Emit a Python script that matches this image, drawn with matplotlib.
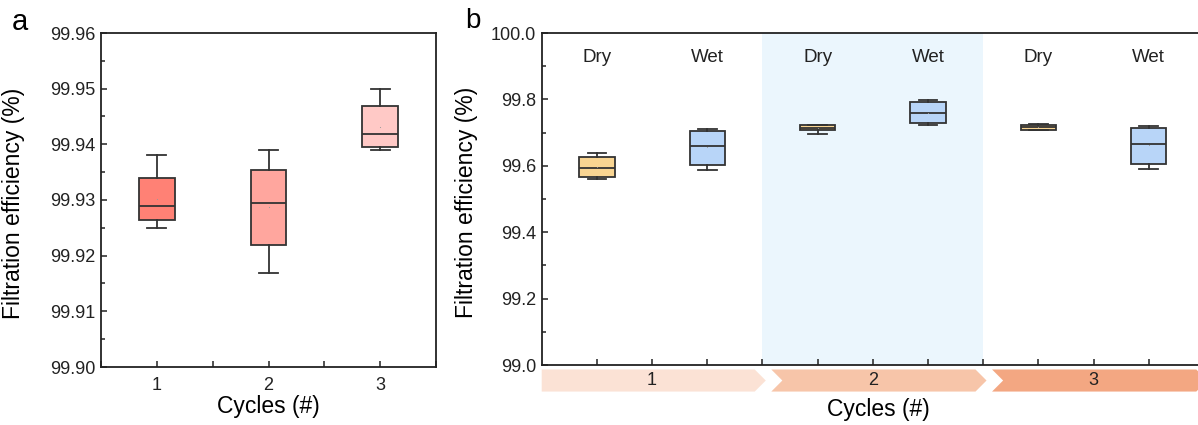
import numpy as np
import matplotlib
matplotlib.use('Agg')
import matplotlib.pyplot as plt
from matplotlib.ticker import MultipleLocator, FormatStrFormatter
from matplotlib.patches import Polygon
from matplotlib.transforms import blended_transform_factory

plt.rcParams['font.family'] = ['Liberation Sans', 'DejaVu Sans']

# panel a: filtration efficiency over 3 cycles
cycles_a = [1, 2, 3]
a_whislo = [99.9250, 99.9169, 99.9389]
a_q1 = [99.9264, 99.9219, 99.9395]
a_med = [99.9289, 99.9295, 99.9419]
a_q3 = [99.9339, 99.9353, 99.9469]
a_whishi = [99.9380, 99.9389, 99.9499]
a_mean = [99.9302, 99.9287, 99.9432]
a_colors = ['#FF8175', '#FFA69E', '#FFC9C6']

# panel b: dry / wet tests per cycle
conditions = ['Dry', 'Wet', 'Dry', 'Wet', 'Dry', 'Wet']
b_whislo = [99.560, 99.588, 99.697, 99.723, 99.707, 99.590]
b_q1 = [99.565, 99.603, 99.707, 99.729, 99.708, 99.606]
b_med = [99.594, 99.659, 99.714, 99.760, 99.716, 99.665]
b_q3 = [99.628, 99.704, 99.722, 99.791, 99.724, 99.714]
b_whishi = [99.638, 99.712, 99.723, 99.799, 99.727, 99.719]
b_mean = [99.595, 99.656, 99.715, 99.760, 99.716, 99.662]
cycle_labels = ['1', '2', '3']
cycle_colors = ['#FBE2D5', '#F7C5A9', '#F3A782']
cond_colors = {'Dry': '#F9D592', 'Wet': '#B8D5F8'}

EDGE = '#333333'


def make_stats(lo, q1, med, q3, hi, mean):
    return [dict(whislo=l, q1=a, med=m, q3=b, whishi=h, mean=mu, fliers=[])
            for l, a, m, b, h, mu in zip(lo, q1, med, q3, hi, mean)]


def draw_boxes(ax, stats, positions, colors):
    bp = ax.bxp(stats, positions=positions, widths=0.32, capwidths=0.17,
                patch_artist=True, showmeans=True, showfliers=False,
                boxprops=dict(edgecolor=EDGE, linewidth=1.3),
                medianprops=dict(color=EDGE, linewidth=1.3),
                whiskerprops=dict(color=EDGE, linewidth=1.3),
                capprops=dict(color=EDGE, linewidth=1.3),
                meanprops=dict(marker='o', markersize=0.8,
                               markerfacecolor='#999999', markeredgecolor='none'))
    for patch, c in zip(bp['boxes'], colors):
        patch.set_facecolor(c)
    return bp


def style_axes(ax):
    for sp in ax.spines.values():
        sp.set_linewidth(1.3)
        sp.set_color('#222222')
    ax.tick_params(which='both', direction='in', length=4, width=1.1,
                   color='#222222', labelsize=13, labelcolor='#222222')


fig = plt.figure(figsize=(11.98, 4.25), dpi=100)

# ---- panel a ----
ax1 = fig.add_axes([101 / 1198, 58 / 425, 335 / 1198, 334 / 425])
draw_boxes(ax1, make_stats(a_whislo, a_q1, a_med, a_q3, a_whishi, a_mean),
           cycles_a, a_colors)
ax1.set_xlim(0.5, 3.5)
ax1.set_ylim(99.90, 99.96)
ax1.set_xticks(cycles_a)
ax1.set_xticklabels([str(c) for c in cycles_a])
ax1.xaxis.set_minor_locator(MultipleLocator(0.5))
ax1.yaxis.set_major_locator(MultipleLocator(0.01))
ax1.yaxis.set_minor_locator(MultipleLocator(0.005))
ax1.yaxis.set_major_formatter(FormatStrFormatter('%.2f'))
style_axes(ax1)
ax1.tick_params(axis='y', which='minor', length=3)
ax1.tick_params(axis='y', pad=4)
ax1.tick_params(axis='x', pad=7)
ax1.set_xlabel('Cycles (#)', fontsize=16.5, labelpad=1)
ax1.set_ylabel('Filtration efficiency (%)', fontsize=16.5)
ax1.yaxis.set_label_coords(-0.227, 0.49)
fig.text(12 / 1198, 1 - 8 / 425, 'a', fontsize=21, va='top', ha='left')

# ---- panel b ----
ax2 = fig.add_axes([541.7 / 1198, 60 / 425, 662.3 / 1198, 332 / 425])
pos_b = np.arange(1, len(conditions) + 1)
ax2.axvspan(2.5, 4.5, color='#EBF6FD', zorder=0, lw=0)
draw_boxes(ax2, make_stats(b_whislo, b_q1, b_med, b_q3, b_whishi, b_mean),
           pos_b, [cond_colors[c] for c in conditions])
ax2.set_xlim(0.5, 6.5)
ax2.set_ylim(99.0, 100.0)
ax2.set_xticks(np.arange(1, 6.51, 0.5))
ax2.set_xticklabels([])
ax2.yaxis.set_major_locator(MultipleLocator(0.2))
ax2.yaxis.set_minor_locator(MultipleLocator(0.1))
ax2.yaxis.set_major_formatter(FormatStrFormatter('%.1f'))
style_axes(ax2)
ax2.tick_params(axis='y', which='minor', length=3)
ax2.tick_params(axis='y', pad=4)

for x, cond in zip(pos_b, conditions):
    ax2.text(x, 99.913, cond, ha='center', va='baseline', fontsize=13.5,
             color='#222222')

# cycle chevrons under the x axis
trans = blended_transform_factory(ax2.transData, ax2.transAxes)
y_top, y_bot = -0.0135, -0.080
y_mid = (y_top + y_bot) / 2
for i, (lab, col) in enumerate(zip(cycle_labels, cycle_colors)):
    lo, hi = 0.5 + 2 * i, 2.5 + 2 * i
    if i == 0:
        left = [(lo, y_top), (lo, y_bot)]
    else:
        left = [(lo + 0.08, y_top), (lo + 0.18, y_mid), (lo + 0.08, y_bot)]
    right = [(hi - 0.07, y_bot), (hi + 0.03, y_mid), (hi - 0.07, y_top)]
    poly = Polygon(left + right, closed=True, facecolor=col, edgecolor='none',
                   transform=trans, clip_on=False)
    ax2.add_patch(poly)
    ax2.text((lo + hi) / 2, y_mid, lab, ha='center', va='center', fontsize=13,
             color='#222222', transform=trans, clip_on=False)

ax2.text(3.55, -0.135, 'Cycles (#)', ha='center', va='center', fontsize=16.5,
         transform=trans)
ax2.set_ylabel('Filtration efficiency (%)', fontsize=16.5)
ax2.yaxis.set_label_coords(-0.096, 0.49)
fig.text(465 / 1198, 1 - 8 / 425, 'b', fontsize=20, va='top', ha='left')

fig.savefig('out.png', dpi=100)
